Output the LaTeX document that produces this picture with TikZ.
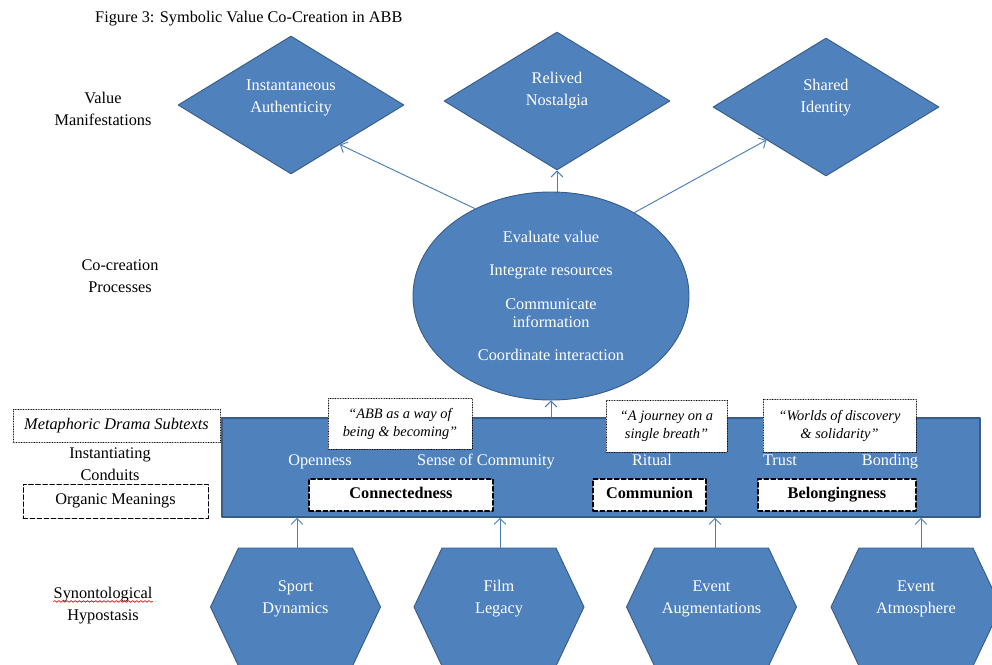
\documentclass[tikz,border=0pt]{standalone}
\usepackage{fontspec}
\setmainfont{Liberation Serif}
\usepackage{tikz}
\usetikzlibrary{arrows.meta,shapes.geometric,decorations.pathmorphing}
\definecolor{boxblue}{HTML}{4F81BD}
\definecolor{edgeblue}{HTML}{385D8A}
\definecolor{arrowblue}{HTML}{4A7EBB}

\begin{document}
\begin{tikzpicture}[line cap=round,line join=round,>={Straight Barb[length=5pt,width=10pt]},x=0.03cm,y=-0.03cm,
  txt/.style={font=\fontsize{13.9}{18.8}\selectfont,align=center,inner sep=0pt},
  wtxt/.style={txt,text=white},
  onetxt/.style={wtxt,text height=9.5pt,text depth=3pt},
  valbox/.style={diamond,fill=boxblue,draw=edgeblue,line width=0.8pt,minimum width=6.78cm,minimum height=4.14cm,inner sep=0pt},
  procnode/.style={ellipse,fill=boxblue,draw=edgeblue,line width=0.8pt,minimum width=8.28cm,minimum height=6.24cm,inner sep=0pt,text=white,align=center,font=\fontsize{13.9}{15.4}\selectfont},
  hexbox/.style={fill=boxblue,draw=edgeblue,line width=0.8pt},
  quotebox/.style={draw,densely dotted,fill=white,align=center,font=\fontsize{12.3}{15.4}\selectfont\itshape,inner sep=0pt},
  meanbox/.style={draw,dash pattern=on 4pt off 2pt,line width=0.9pt,fill=white,font=\fontsize{13.9}{16}\selectfont\bfseries,text height=9.5pt,text depth=3pt,minimum height=0.96cm,inner sep=0pt},
  uparrow/.style={->,draw=arrowblue,line width=0.8pt}]
\useasboundingbox (0,0) rectangle (992,664);
\node[txt,anchor=west] (title) at (95,19) {Figure 3: Symbolic Value Co-Creation in ABB};
\node[txt] (vm) at (103,109) {Value\\Manifestations};
\node[txt] (cp) at (120,276) {Co-creation\\Processes};
\node[txt,draw,densely dotted,minimum width=6.21cm,minimum height=0.99cm] (mds) at (116.5,425.5) {\itshape Metaphoric Drama Subtexts};
\node[txt] (ic) at (110,464) {Instantiating\\Conduits};
\node[txt,draw,dash pattern=on 4pt off 2pt,line width=0.8pt,minimum width=5.55cm,minimum height=1.02cm] (om) at (115.5,501) {Organic Meanings};
\node[txt] (sh) at (103,606) {Synontological\\Hypostasis};
\draw[red,line width=0.6pt,decorate,decoration={snake,amplitude=0.7pt,segment length=3.5pt}] ([yshift=-12pt]sh.north west) -- ([yshift=-12pt]sh.north east);

\node[valbox] (d1) at (291,105) {};
\node[valbox] (d2) at (557,101) {};
\node[valbox] (d3) at (826,107) {};
\node[wtxt] at (291,98) {Instantaneous\\Authenticity};
\node[wtxt] at (557,91) {Relived\\Nostalgia};
\node[wtxt] at (826,98) {Shared\\Identity};

\node[procnode] (proc) at (551,296) {Evaluate value\\[13pt]Integrate resources\\[13pt]Communicate\\information\\[13pt]Coordinate interaction};
\draw[uparrow] (proc.131) -- (d1.-39);
\draw[uparrow] (proc.north -| d2) -- (d2.south);
\draw[uparrow] (proc.45) -- (d3.-151);

\node[fill=boxblue,draw=edgeblue,line width=1.5pt,minimum width=22.74cm,minimum height=2.97cm,inner sep=0pt] (cond) at (601,467.5) {};
\draw[uparrow] (proc.south |- cond.north) -- (proc.south);
\node[quotebox,minimum width=4.32cm,minimum height=1.53cm] (q1) at (400,423.5) {``ABB as a way of\\being \& becoming''};
\node[quotebox,minimum width=3.63cm,minimum height=1.56cm] (q2) at (666.5,426) {``A journey on a\\single breath''};
\node[quotebox,minimum width=4.59cm,minimum height=1.59cm] (q3) at (839.5,425.5) {``Worlds of discovery\\\& solidarity''};
\node[onetxt] (open) at (320,462) {Openness};
\node[onetxt] (comm) at (486,462) {Sense of Community};
\node[onetxt] (rit) at (652,462) {Ritual};
\node[onetxt] (trust) at (780,462) {Trust};
\node[onetxt] (bond) at (890,462) {Bonding};
\node[meanbox,minimum width=5.52cm] (conn) at (401,495) {Connectedness};
\node[meanbox,minimum width=3.39cm] (cmn) at (649.5,495) {Communion};
\node[meanbox,minimum width=4.74cm] (belong) at (837,495) {Belongingness};

\draw[hexbox] (210.5,607) -- (238.5,548) -- (352.5,548) -- (380.5,607) -- (352.5,666) -- (238.5,666) -- cycle;
\draw[hexbox] (414,607) -- (442,548) -- (556,548) -- (584,607) -- (556,666) -- (442,666) -- cycle;
\draw[hexbox] (626.5,607) -- (654.5,548) -- (768.5,548) -- (796.5,607) -- (768.5,666) -- (654.5,666) -- cycle;
\draw[hexbox] (831,607) -- (859,548) -- (973,548) -- (1001,607) -- (973,666) -- (859,666) -- cycle;
\node[wtxt] (h1) at (295.5,599) {Sport\\Dynamics};
\node[wtxt] (h2) at (499,599) {Film\\Legacy};
\node[wtxt] (h3) at (711.5,599) {Event\\Augmentations};
\node[wtxt] (h4) at (916,599) {Event\\Atmosphere};
\coordinate (h1top) at (297,548);
\coordinate (h2top) at (500,548);
\coordinate (h3top) at (715,548);
\coordinate (h4top) at (921,548);
\draw[uparrow] (h1top) -- (h1top |- cond.south);
\draw[uparrow] (h2top) -- (h2top |- cond.south);
\draw[uparrow] (h3top) -- (h3top |- cond.south);
\draw[uparrow] (h4top) -- (h4top |- cond.south);
\end{tikzpicture}
\end{document}
